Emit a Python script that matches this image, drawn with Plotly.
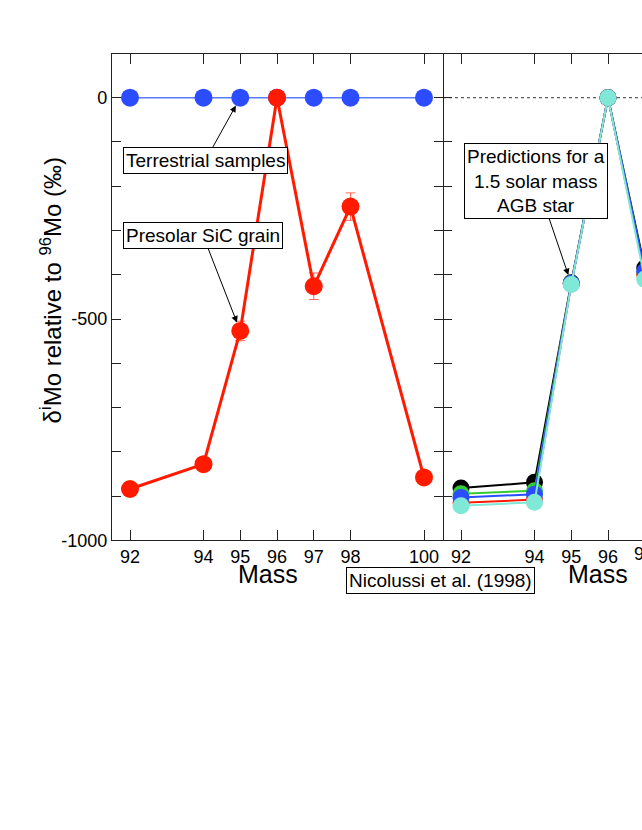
import plotly.graph_objects as go

# isotope masses and measured / predicted delta values (permil relative to 96Mo)
masses = [92, 94, 95, 96, 97, 98, 100]
terrestrial = [0, 0, 0, 0, 0, 0, 0]
sic_grain = [-884, -828, -527, 0, -426, -246, -858]
sic_err = [15, 15, 22, 0, 30, 31, 15]

model_masses = [92, 94, 95, 96, 97]
model_black = [-882, -869, -418, 0, -385]
model_green = [-895, -888, -420, 0, -395]
model_red = [-915, -908, -421, 0, -400]
model_blue = [-903, -896, -420, 0, -392]
model_cyan = [-922, -914, -422, 0, -410]

x_ticks = [92, 94, 95, 96, 97, 98, 100]
y_ticks = list(range(-1000, 101, 100))
y_labels = [str(v) if v % 500 == 0 else "" for v in y_ticks]

# figure a bit shorter than the window, everything placed in pixels from the top
W, H = 642, 820
fnt = "Liberation Sans, Arial, Helvetica, sans-serif"
px_unit = 36.75  # pixels per mass unit in both panels

fig = go.Figure()

# left panel
fig.add_trace(go.Scatter(x=masses, y=terrestrial, mode="lines+markers",
                         line=dict(color="#5b7cff", width=1.5),
                         marker=dict(color="#2b4cff", size=18),
                         xaxis="x", yaxis="y"))
fig.add_trace(go.Scatter(x=masses, y=sic_grain, mode="lines+markers",
                         line=dict(color="#ff1a00", width=3),
                         marker=dict(color="#ff1a00", size=18),
                         error_y=dict(type="data", array=sic_err, color="#ff6a5a",
                                      thickness=1, width=5),
                         xaxis="x", yaxis="y"))

# right panel (model predictions)
for vals, col in [(model_black, "#000000"), (model_green, "#33cc33"),
                  (model_red, "#ff1a00"), (model_blue, "#2b4cff"),
                  (model_cyan, "#7fe8d6")]:
    fig.add_trace(go.Scatter(x=model_masses, y=vals, mode="lines+markers",
                             line=dict(color=col, width=2),
                             marker=dict(color=col, size=17),
                             xaxis="x2", yaxis="y2"))

# dotted zero line on the right panel
fig.add_shape(type="line", xref="x2 domain", x0=0, x1=1, yref="y2", y0=0, y1=0,
              line=dict(color="black", width=0.8, dash="dot"), layer="below")

x0_px, x1_px, x2_px = 112, 443, W
top_px, bot_px = 55, 547
ydom = [1 - bot_px / H, 1 - top_px / H]

axis_common = dict(linecolor="#222", linewidth=1.3, ticks="inside",
                   tickcolor="#222", tickwidth=1.2, showgrid=False, zeroline=False,
                   tickfont=dict(family=fnt, size=18, color="black"))

x_lo = 92 - (130 - x0_px) / px_unit
fig.update_layout(
    width=W, height=H, autosize=False, margin=dict(l=0, r=0, t=0, b=0),
    paper_bgcolor="white", plot_bgcolor="white", showlegend=False,
    font=dict(family=fnt, color="black"),
    xaxis=dict(domain=[x0_px / W, x1_px / W], anchor="y", range=[x_lo, x_lo + (x1_px - x0_px) / px_unit],
               tickvals=x_ticks, ticklen=10, showline=True, mirror="ticks", **axis_common),
    yaxis=dict(domain=ydom, anchor="x", range=[-1000, 98], tickvals=y_ticks, ticktext=y_labels,
               ticklen=9, showline=True, mirror="ticks", **axis_common),
    xaxis2=dict(domain=[x1_px / W, 1], anchor="y2", range=[x_lo, x_lo + (x2_px - x1_px) / px_unit],
                tickvals=x_ticks, ticklen=10, showline=True, mirror="ticks", **axis_common),
    yaxis2=dict(domain=ydom, anchor="x2", range=[-1000, 98], tickvals=y_ticks,
                showticklabels=False, ticklen=9, showline=False, mirror=False, **axis_common),
)

box = dict(bordercolor="black", borderwidth=1, bgcolor="white", borderpad=2,
           font=dict(family=fnt, size=19, color="black"))
arrow = dict(showarrow=True, arrowhead=2, arrowsize=1.3, arrowwidth=1,
             arrowcolor="black", standoff=9)
mid = dict(xanchor="center", yanchor="middle", showarrow=False)

fig.add_annotation(x=95, y=0, xref="x", yref="y", ax=-35, ay=63,
                   text="Terrestrial samples", **box, **arrow)
fig.add_annotation(x=95, y=-527, xref="x", yref="y", ax=-37, ay=-95,
                   text="Presolar SiC grain", **box, **arrow)
fig.add_annotation(x=95, y=-420, xref="x2", yref="y2", ax=-35, ay=-103,
                   text="Predictions for a<br>1.5 solar mass<br>AGB star", **box, **arrow)
fig.add_annotation(x=440 / W, y=1 - 588 / H, xref="paper", yref="paper",
                   text="Nicolussi et al. (1998)", **box, **mid)

# axis titles
fig.add_annotation(x=95.76, y=1 - 581 / H, xref="x", yref="paper",
                   text="Mass", font=dict(family=fnt, size=25, color="black"), **mid)
fig.add_annotation(x=95.73, y=1 - 581 / H, xref="x2", yref="paper",
                   text="Mass", font=dict(family=fnt, size=25, color="black"), **mid)
fig.add_annotation(x=51 / W, y=1 - 294 / H, xref="paper", yref="paper",
                   textangle=-90, text="δ<sup>i</sup>Mo relative to <sup>96</sup>Mo (‰)",
                   font=dict(family=fnt, size=24, color="black"), **mid)
# partly visible tick label 97 at the right edge of the second panel
fig.add_annotation(x=(460 + 5 * px_unit) / W, y=1 - 561 / H, xref="paper", yref="paper",
                   text="97", font=dict(family=fnt, size=18, color="black"), **mid)

fig.write_html("out.html", config={"displayModeBar": False, "responsive": False},
               post_script="document.body.style.margin='0';")
